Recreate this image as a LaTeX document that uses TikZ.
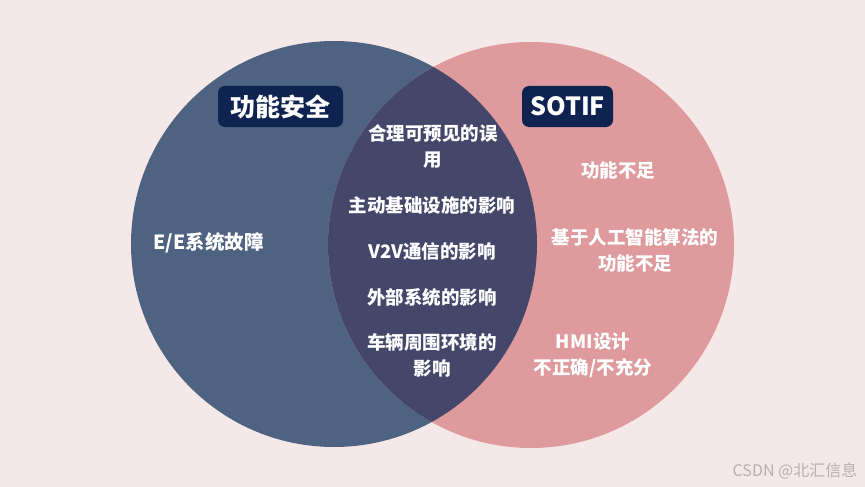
\documentclass[tikz,border=0pt]{standalone}
\usepackage{fontspec}
\setmainfont{Noto Sans CJK SC}
\definecolor{bgc}{HTML}{F5E8E8}
\definecolor{leftc}{HTML}{4E6281}
\definecolor{rightc}{HTML}{DE9A9C}
\definecolor{midc}{HTML}{45476A}
\definecolor{navy}{HTML}{0E2350}
\definecolor{wmc}{HTML}{B8B0B0}
\tikzset{
  tagbox/.style={fill=navy, rounded corners=7pt, minimum width=125pt, minimum height=41pt,
    inner sep=0pt, text=white, font=\bfseries\fontsize{25}{30}\selectfont},
  item/.style={text=white, align=center, inner sep=0pt,
    font=\bfseries\fontsize{18.5}{26}\selectfont},
  wm/.style={text=wmc, inner sep=0pt, font=\fontsize{16}{18}\selectfont}
}
\begin{document}
\begin{tikzpicture}[x=1pt,y=-1pt]
\fill[bgc] (0,0) rectangle (865,487);
\useasboundingbox (0,0) rectangle (865,487);
\fill[leftc] (334,244) circle[radius=203pt];
\fill[rightc] (531,245) circle[radius=203pt];
\begin{scope}
  \clip (334,244) circle[radius=203pt];
  \fill[midc] (531,245) circle[radius=203pt];
\end{scope}
\node[tagbox] (fs) at (280.5,106.5) {功能安全};
\node[tagbox, minimum width=91pt] (sotif) at (567.5,106.5) {SOTIF};
\node[item, font=\bfseries\fontsize{19.5}{26}\selectfont] (ee) at (208.5,243) {E/E系统故障};
\node[item] (m1) at (433,146.5) {合理可预见的误\\用};
\node[item] (m2) at (432,205) {主动基础设施的影响};
\node[item] (m3) at (432,251) {V2V通信的影响};
\node[item] (m4) at (432,297) {外部系统的影响};
\node[item] (m5) at (432,355.5) {车辆周围环境的\\影响};
\node[item] (r1) at (618,170) {功能不足};
\node[item] (r2) at (635,250) {基于人工智能算法的\\功能不足};
\node[item] (r3) at (593,355) {HMI设计\\不正确/不充分};
\node[wm] (wmark) at (795,471) {CSDN @北汇信息};
\end{tikzpicture}
\end{document}
